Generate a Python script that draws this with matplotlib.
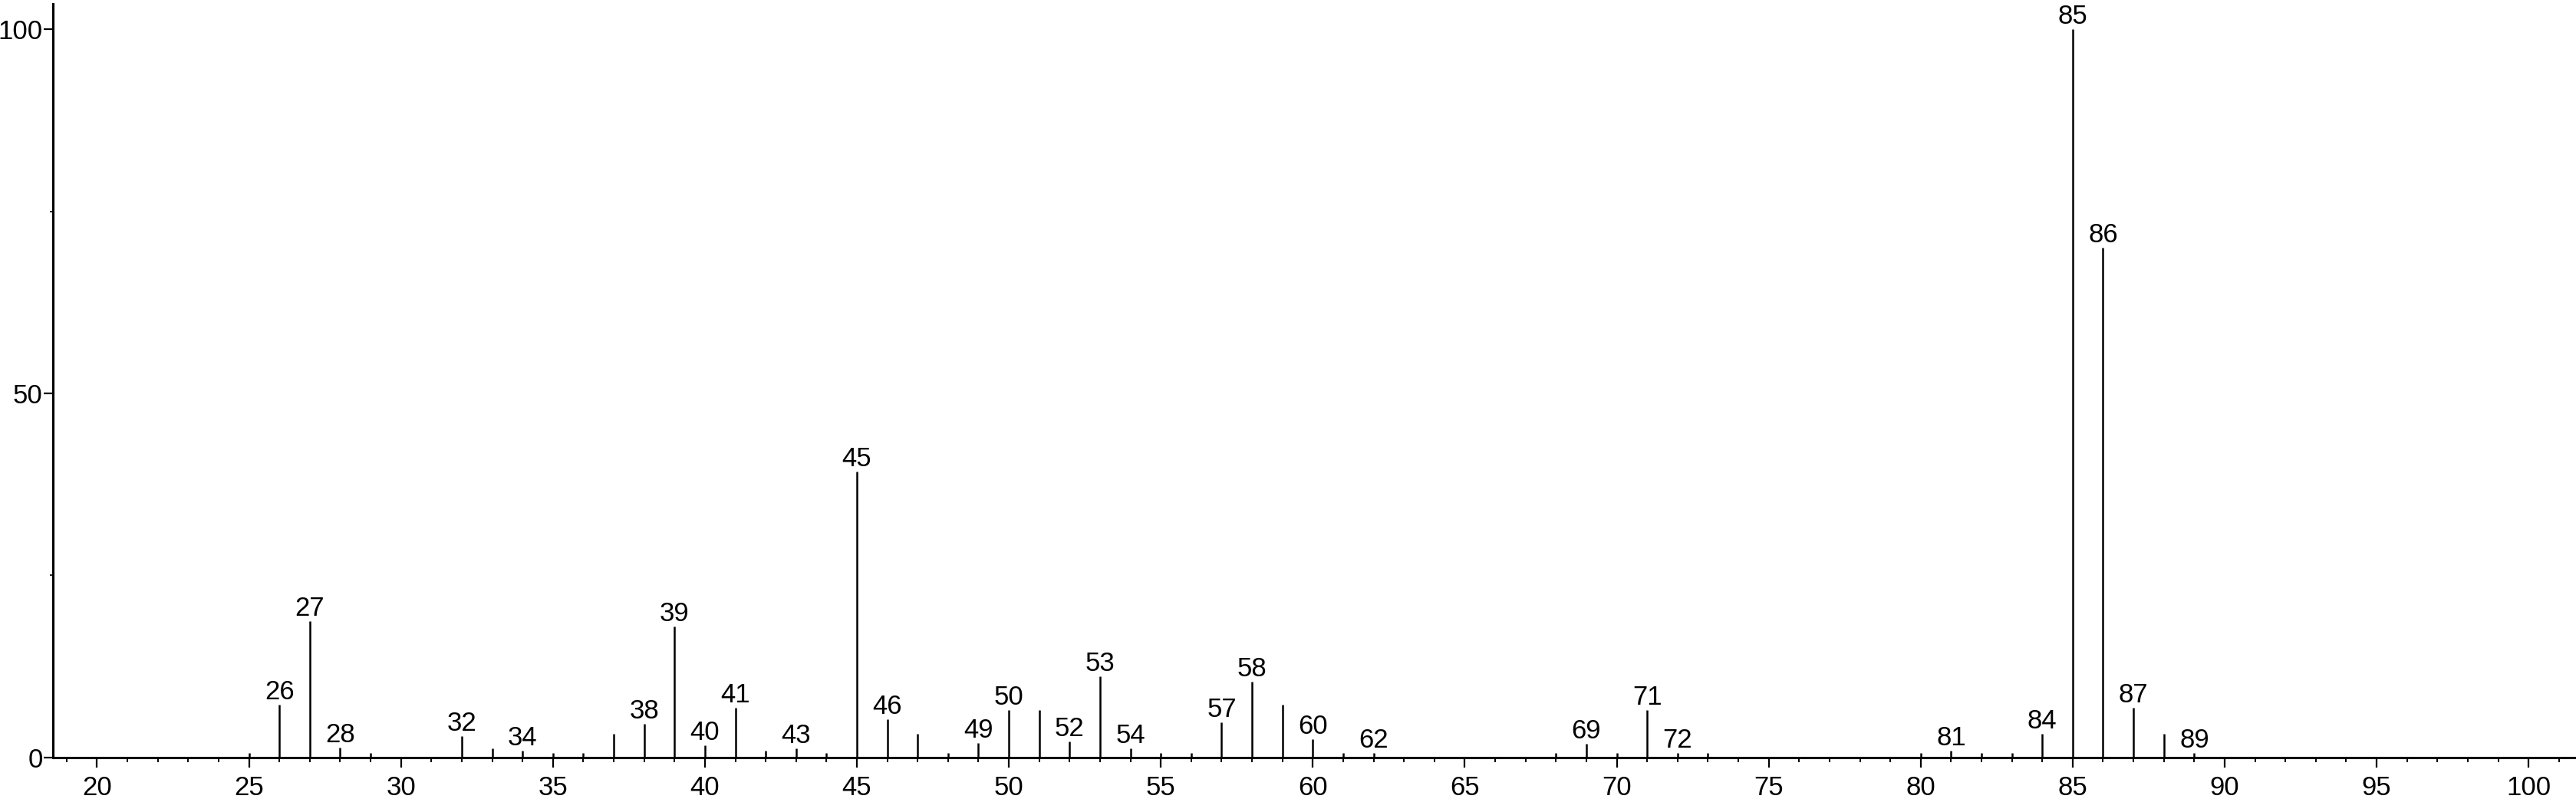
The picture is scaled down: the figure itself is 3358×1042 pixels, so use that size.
import matplotlib.pyplot as plt
from matplotlib.ticker import MultipleLocator

# m/z values and relative intensities
mz = [25, 26, 27, 28, 29, 32, 33, 34, 35, 36, 37, 38, 39, 40, 41, 42, 43, 44,
      45, 46, 47, 48, 49, 50, 51, 52, 53, 54, 55, 56, 57, 58, 59, 60, 61, 62,
      68, 69, 70, 71, 72, 73, 80, 81, 82, 83, 84, 85, 86, 87, 88, 89]
intensity = [0.6, 7.2, 18.7, 1.3, 0.6, 2.9, 1.2, 0.9, 0.6, 0.6, 3.2, 4.6, 18.0,
             1.6, 6.8, 0.9, 1.2, 0.6, 39.2, 5.2, 3.2, 0.6, 1.9, 6.5, 6.5, 2.2,
             11.1, 1.2, 0.6, 0.6, 4.8, 10.4, 7.2, 2.5, 0.6, 0.6, 0.6, 1.8, 0.6,
             6.5, 0.6, 0.6, 0.6, 0.9, 0.6, 0.6, 3.2, 100.0, 70.0, 6.8, 3.2, 0.6]
labeled = [26, 27, 28, 32, 34, 38, 39, 40, 41, 43, 45, 46, 49, 50, 52, 53, 54,
           57, 58, 60, 62, 69, 71, 72, 81, 84, 85, 86, 87, 89]

plt.rcParams['font.family'] = ['Liberation Sans', 'DejaVu Sans']

fig = plt.figure(figsize=(33.58, 10.42), dpi=100)
ax = fig.add_axes([69 / 3358, 0.0523, 1 - 69 / 3358, 0.9952 - 0.0523])

ax.vlines(mz, 0, intensity, color='black', linewidth=1.8)
for m, h in zip(mz, intensity):
    if m in labeled:
        ax.annotate(str(m), (m, h), xytext=(0, 0), textcoords='offset points',
                    ha='center', va='bottom', fontsize=25, annotation_clip=False)

ax.set_xlim(18.55, 101.56)
ax.set_ylim(0, 103.5)

ax.xaxis.set_major_locator(MultipleLocator(5))
ax.xaxis.set_minor_locator(MultipleLocator(1))
ax.yaxis.set_major_locator(MultipleLocator(50))
ax.yaxis.set_minor_locator(MultipleLocator(25))

for s in ['top', 'right']:
    ax.spines[s].set_visible(False)
for s in ['left', 'bottom']:
    ax.spines[s].set_linewidth(2.2)

ax.tick_params(axis='both', which='major', length=9, width=1.6, labelsize=25)
ax.tick_params(axis='x', which='major', pad=8)
ax.tick_params(axis='y', which='major', pad=0.5)
ax.tick_params(axis='x', which='minor', length=4.5, width=1.4)
ax.tick_params(axis='y', which='minor', length=3, width=1.2)

fig.savefig('out.png', dpi=100)
